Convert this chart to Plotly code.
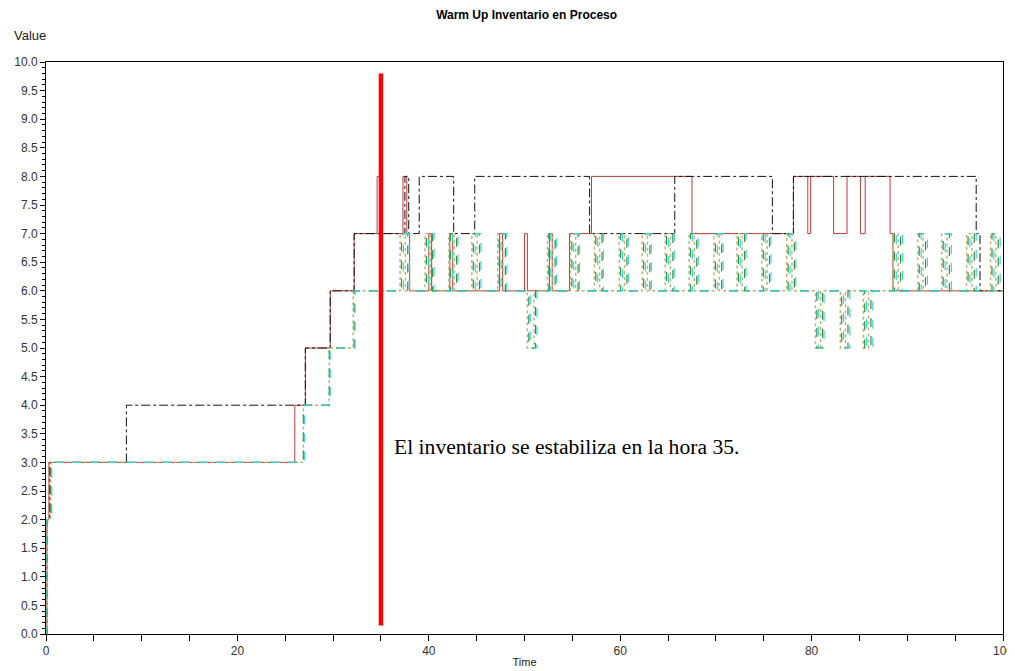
import plotly.graph_objects as go

# ---- data ----
red_t = [0, 0.1, 0.3, 26.0, 27.1, 29.7, 32.2, 34.6, 35.1, 37.3, 37.7, 38.0, 40.0, 40.3, 42.2, 42.5,
         47.4, 47.7, 50.0, 50.3, 52.6, 52.9, 54.7, 57.0, 67.5, 78.1, 79.6, 79.9, 82.3, 83.7, 85.1,
         85.6, 88.2, 88.5, 100]
red_v = [0, 2, 3, 4, 5, 6, 7, 8, 7, 8, 7, 6, 7, 6, 7, 6,
         7, 6, 7, 6, 7, 6, 7, 8, 7, 8, 7, 8, 7, 8, 7,
         8, 7, 6, 6]

black_t = [0, 0.1, 0.4, 8.4, 27.1, 29.7, 32.2, 37.5, 37.9, 39.0, 42.6, 44.8, 56.8, 65.7, 75.9,
           78.1, 97.2, 97.6, 100]
black_v = [0, 2, 3, 4, 5, 6, 7, 8, 7, 8, 7, 8, 7, 8, 7,
           8, 7, 6, 6]

olive_t = [0, 0.1, 0.5, 26.9, 29.6, 32.1, 37.0, 37.55, 39.6, 40.15, 42.1, 42.65, 44.5, 45.05,
           47.2, 47.75, 50.3, 51.0, 52.4, 52.95, 54.8, 55.35, 57.3, 57.85, 59.9, 60.45, 62.3, 62.85,
           64.7, 65.25, 67.2, 67.75, 69.8, 70.35, 72.2, 72.75, 74.8, 75.35, 77.4, 77.95, 80.4, 80.95,
           83.0, 83.55, 85.4, 85.95, 88.5, 89.05, 91.1, 91.65, 93.6, 94.15, 96.2, 96.75, 98.7, 99.25, 100]
olive_v = [0, 2, 3, 4, 5, 6, 7, 6, 7, 6, 7, 6, 7, 6,
           7, 6, 5, 6, 7, 6, 7, 6, 7, 6, 7, 6, 7, 6,
           7, 6, 7, 6, 7, 6, 7, 6, 7, 6, 7, 6, 5, 6,
           5, 6, 5, 6, 7, 6, 7, 6, 7, 6, 7, 6, 7, 6, 6]

green_t = [0, 0.1, 0.5, 26.9, 29.6, 32.2, 37.15, 37.8, 39.75, 40.4, 42.25, 42.9, 44.65, 45.3,
           47.35, 48.0, 50.45, 51.15, 52.55, 53.2, 54.95, 55.6, 57.45, 58.1, 60.05, 60.7, 62.45, 63.1,
           64.85, 65.5, 67.35, 68.0, 69.95, 70.6, 72.35, 73.0, 74.95, 75.6, 77.55, 78.2, 80.55, 81.15,
           83.15, 83.8, 85.55, 86.2, 88.65, 89.3, 91.25, 91.9, 93.75, 94.4, 96.35, 97.0, 98.85, 99.5, 100]
green_v = olive_v[:]

cyan_t = [0, 0.1, 0.6, 27.0, 29.7, 32.3, 37.35, 37.95, 39.95, 40.55, 42.45, 43.05, 44.85, 45.45,
          47.55, 48.15, 50.6, 51.3, 52.75, 53.35, 55.15, 55.75, 57.65, 58.25, 60.25, 60.85, 62.65, 63.25,
          65.05, 65.65, 67.55, 68.15, 70.15, 70.75, 72.55, 73.15, 75.15, 75.75, 77.75, 78.35, 80.7, 81.3,
          83.35, 84.0, 85.75, 86.4, 88.85, 89.5, 91.45, 92.1, 93.95, 94.6, 96.55, 97.2, 99.05, 99.7, 100]
cyan_v = olive_v[:]

stable_hour = 35
marker_line_y = [0.15, 9.8]
note_text = "El inventario se estabiliza en la hora 35."
note_pos = (36.2, 3.27)

x_major = [0, 20, 40, 60, 80, 100]

fig = go.Figure()

def step(t, v, color, dash, width=1):
    fig.add_trace(go.Scatter(x=t, y=v, mode="lines", line=dict(color=color, dash=dash, width=width, shape="hv"),
                             hoverinfo="skip", showlegend=False))

step(red_t, red_v, "#c03a3a", "solid", 1.0)
step(black_t, black_v, "#111111", "dashdot", 1)
step(olive_t, olive_v, "#b4b46e", "dot", 1.4)
step(green_t, green_v, "#3c8c46", "dash", 1.2)
step(cyan_t, cyan_v, "#38d8cc", "dash", 1.2)

fig.add_trace(go.Scatter(x=[stable_hour, stable_hour], y=marker_line_y, mode="lines",
                         line=dict(color="#ff0000", width=4.5), hoverinfo="skip", showlegend=False))

fig.add_annotation(x=note_pos[0], y=note_pos[1], text=note_text, showarrow=False, xanchor="left",
                   yanchor="middle", font=dict(family="Liberation Serif", size=21.6, color="#000000"))

fig.add_annotation(xref="paper", yref="paper", x=-0.036, y=1.03, text="Value", showarrow=False,
                   xanchor="left", yanchor="bottom", font=dict(family="Liberation Sans", size=13, color="#222222"))

# page body adds an 8px offset, so the figure is sized/margined to land the plot at the reference pixels
fig.update_layout(
    width=1007, height=663,
    margin=dict(l=38, r=12, t=54, b=37),
    paper_bgcolor="white", plot_bgcolor="white",
    title=dict(text="<b>Warm Up Inventario en Proceso</b>", x=0.515, xanchor="center", y=0.989, yanchor="middle",
               font=dict(family="Liberation Sans", size=12, color="#000000")),
    font=dict(family="Liberation Sans", size=12, color="#333333"),
)

fig.update_xaxes(range=[0, 100], tickvals=x_major, showgrid=False, zeroline=False, automargin=False,
                 showline=True, linecolor="#000000", linewidth=1, mirror=True,
                 ticks="outside", ticklen=6, tickcolor="#000000",
                 minor=dict(dtick=5, ticks="outside", ticklen=6, tickcolor="#000000", showgrid=False),
                 title=dict(text="Time", font=dict(size=11, color="#222222"), standoff=0),
                 tickfont=dict(size=12, color="#333333"))
fig.update_yaxes(range=[0, 10], dtick=0.5, tickformat=".1f", showgrid=False, zeroline=False, automargin=False,
                 showline=True, linecolor="#000000", linewidth=1, mirror=True,
                 ticks="outside", ticklen=5, tickcolor="#000000",
                 minor=dict(dtick=0.1, ticks="outside", ticklen=3, tickcolor="#000000", showgrid=False),
                 tickfont=dict(size=12, color="#333333"))

fig.write_html("out.html")
